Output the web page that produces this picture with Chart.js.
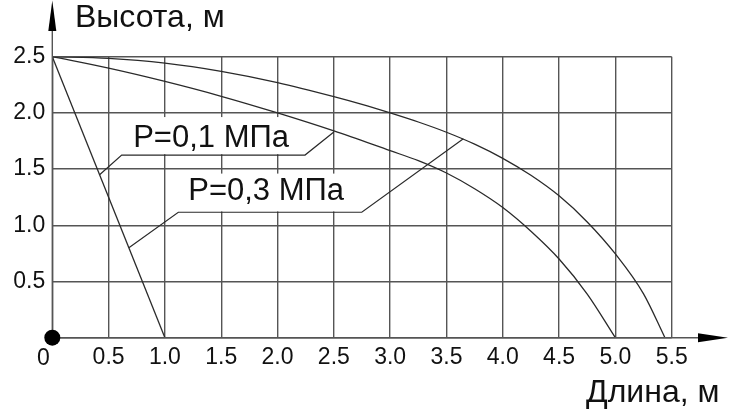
<!DOCTYPE html>
<html>
<head>
<meta charset="utf-8">
<script src="https://cdn.jsdelivr.net/npm/chart.js@4"></script>
<style>
  html, body { margin: 0; padding: 0; background: #fff; }
  #wrap { width: 733px; height: 417px; }
</style>
</head>
<body>
<div id="wrap"><canvas id="c" width="733" height="417"></canvas></div>
<script>
// ---- data ----
const lineX = [0, 1.0];
const lineY = [2.5, 0];

const curve01X = [0, 0.5, 1.0, 1.5, 2.0, 2.5, 3.0, 3.25, 3.5, 3.75, 4.0, 4.25, 4.5, 4.75, 5.0];
const curve01Y = [2.5, 2.398, 2.28, 2.148, 2.0, 1.84, 1.664, 1.575, 1.465, 1.325, 1.158, 0.947, 0.70, 0.388, 0];

const curve03X = [0, 0.5, 1.0, 1.5, 2.0, 2.5, 2.75, 3.0, 3.25, 3.5, 3.75, 4.0, 4.25, 4.5, 4.75, 5.0, 5.25, 5.44];
const curve03Y = [2.5, 2.485, 2.443, 2.37, 2.27, 2.145, 2.076, 2.0, 1.919, 1.828, 1.722, 1.596, 1.445, 1.262, 1.03, 0.745, 0.39, 0];

const labels = ['P=0,1 МПа', 'P=0,3 МПа'];
const yTitle = 'Высота, м';
const xTitle = 'Длина, м';

const toPts = (xs, ys) => xs.map((x, i) => ({ x: x, y: ys[i] }));

const FONT = '"Liberation Sans", Arial, sans-serif';
const GRID = '#555555';
const INK = '#2a2a2a';

const deco = {
  id: 'deco',
  beforeDatasetsDraw(chart) {
    const ctx = chart.ctx, xs = chart.scales.x, ys = chart.scales.y;
    ctx.save();
    ctx.fillStyle = '#fff';
    const boxes = [[0.62, 2.24, 1.963, 1.625], [1.12, 2.75, 1.46, 1.116]];
    boxes.forEach(b => {
      const x0 = xs.getPixelForValue(b[0]), x1 = xs.getPixelForValue(b[1]);
      const y0 = ys.getPixelForValue(b[2]), y1 = ys.getPixelForValue(b[3]);
      ctx.fillRect(x0, y0, x1 - x0, y1 - y0 - 0.8);
    });
    ctx.restore();
  },
  afterDatasetsDraw(chart) {
    const ctx = chart.ctx, xs = chart.scales.x, ys = chart.scales.y;
    const P = (x, y) => [xs.getPixelForValue(x), ys.getPixelForValue(y)];
    ctx.save();
    ctx.strokeStyle = INK;
    ctx.lineWidth = 1.2;
    const leaders = [
      [[0.42, 1.45], [0.616, 1.625], [2.244, 1.625], [2.5, 1.83]],
      [[0.68, 0.80], [1.119, 1.116], [2.748, 1.116], [3.65, 1.77]]
    ];
    leaders.forEach(pts => {
      ctx.beginPath();
      pts.forEach((p, i) => {
        const q = P(p[0], p[1]);
        if (i === 0) ctx.moveTo(q[0], q[1]); else ctx.lineTo(q[0], q[1]);
      });
      ctx.stroke();
    });
    ctx.fillStyle = '#111';
    ctx.font = '31px ' + FONT;
    ctx.textBaseline = 'alphabetic';
    ctx.textAlign = 'left';
    let q = P(0.718, 1.70);
    ctx.fillText(labels[0], q[0], q[1]);
    q = P(1.207, 1.225);
    ctx.fillText(labels[1], q[0], q[1]);
    ctx.restore();
  },
  afterDraw(chart) {
    const ctx = chart.ctx, xs = chart.scales.x, ys = chart.scales.y;
    const ox = xs.getPixelForValue(0), oy = ys.getPixelForValue(0);
    ctx.save();
    ctx.strokeStyle = GRID;
    ctx.lineWidth = 1.4;
    ctx.beginPath();
    ctx.moveTo(ox, oy); ctx.lineTo(704, oy);
    ctx.moveTo(ox, oy); ctx.lineTo(ox, 28);
    ctx.stroke();
    ctx.fillStyle = '#000';
    ctx.beginPath();
    ctx.moveTo(728, oy); ctx.lineTo(698, oy - 4.5); ctx.lineTo(698, oy + 4.5); ctx.closePath();
    ctx.fill();
    ctx.beginPath();
    ctx.moveTo(ox, 0.5); ctx.lineTo(ox - 4, 31); ctx.lineTo(ox + 4, 31); ctx.closePath();
    ctx.fill();
    ctx.beginPath();
    ctx.arc(ox, oy, 8, 0, Math.PI * 2);
    ctx.fill();
    ctx.fillStyle = '#111';
    ctx.font = '23px ' + FONT;
    ctx.textAlign = 'center';
    ctx.textBaseline = 'alphabetic';
    ctx.fillText('0', ox - 9, oy + 27.5);
    ctx.font = '32px ' + FONT;
    ctx.textAlign = 'left';
    ctx.fillText(yTitle, 75, 27.3);
    ctx.fillText(xTitle, 586, 402);
    ctx.restore();
  }
};

const ds = (pts) => ({ data: pts, borderColor: INK, borderWidth: 1.3, pointRadius: 0, fill: false, cubicInterpolationMode: 'monotone' });

new Chart(document.getElementById('c'), {
  type: 'line',
  data: {
    datasets: [
      { data: toPts(lineX, lineY), borderColor: INK, borderWidth: 1.3, pointRadius: 0, fill: false, tension: 0 },
      ds(toPts(curve01X, curve01Y)),
      ds(toPts(curve03X, curve03Y))
    ]
  },
  options: {
    responsive: false,
    animation: false,
    devicePixelRatio: 1,
    layout: { padding: { left: 0, top: 56.7, right: 61.3, bottom: 0 } },
    plugins: { legend: { display: false }, tooltip: { enabled: false } },
    scales: {
      x: {
        type: 'linear', min: 0, max: 5.5,
        afterFit: s => { s.height = 417 - 337.7; },
        border: { display: false },
        grid: { color: GRID, lineWidth: 1.4, drawTicks: false },
        ticks: {
          stepSize: 0.5, padding: 6, color: '#111', maxRotation: 0, autoSkip: false,
          font: { family: FONT, size: 23 },
          callback: v => v === 0 ? '' : Number(v).toFixed(1)
        }
      },
      y: {
        type: 'linear', min: 0, max: 2.5,
        afterFit: s => { s.width = 52.3; },
        border: { display: false },
        grid: { color: GRID, lineWidth: 1.4, drawTicks: false },
        ticks: {
          stepSize: 0.5, padding: 7, color: '#111',
          font: { family: FONT, size: 23 },
          callback: v => v === 0 ? '' : Number(v).toFixed(1)
        }
      }
    }
  },
  plugins: [deco]
});
</script>
</body>
</html>
